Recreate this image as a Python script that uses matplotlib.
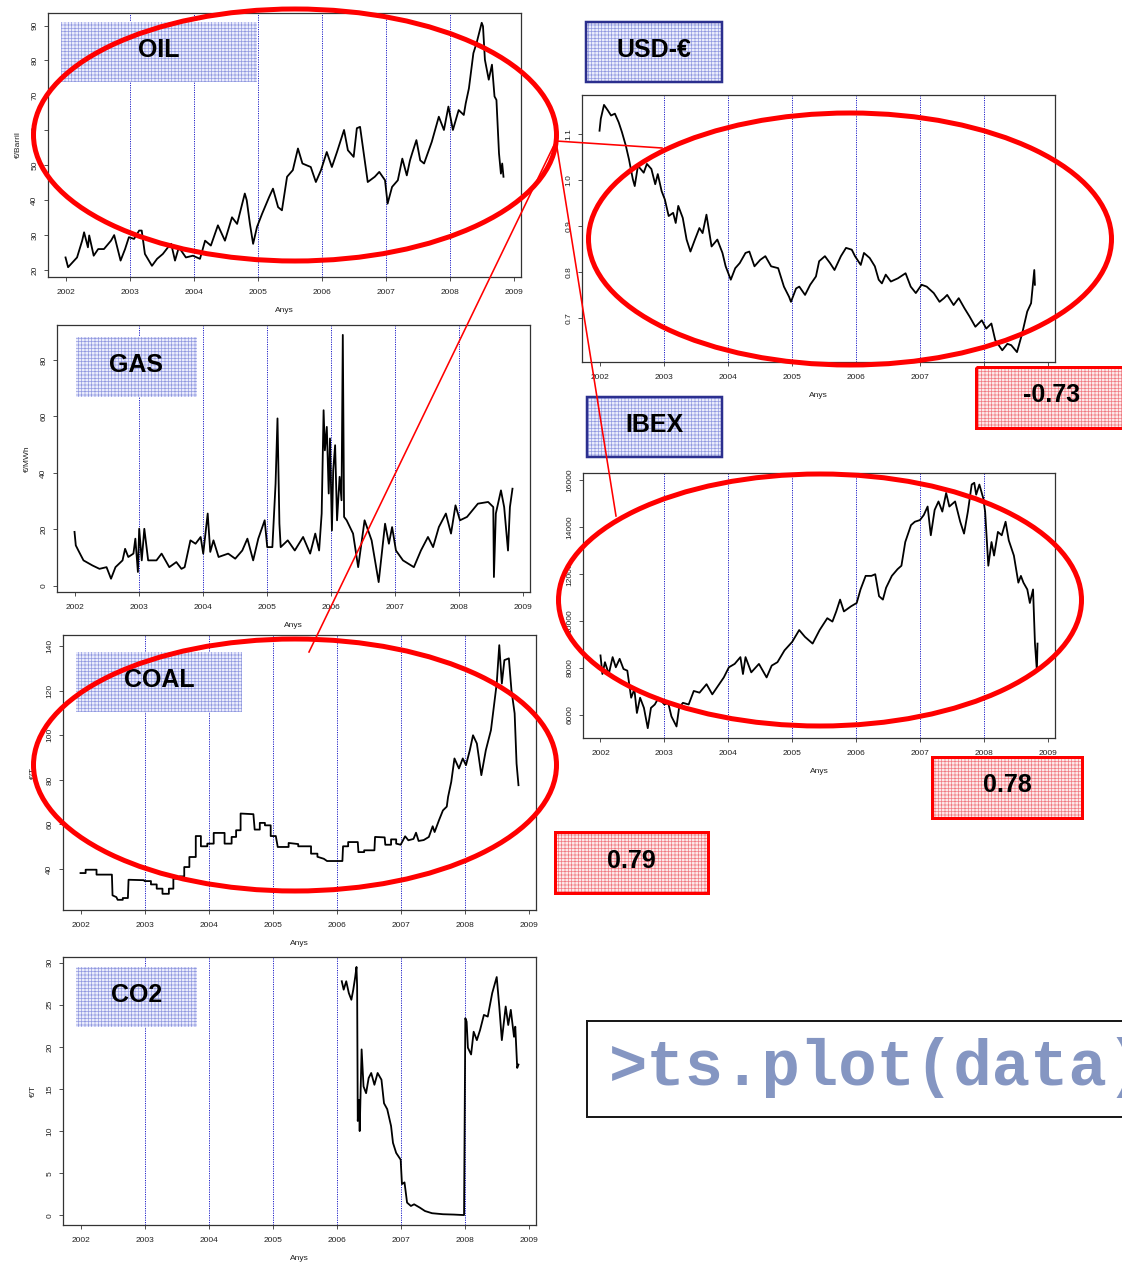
import matplotlib
matplotlib.use("Agg")
import matplotlib.pyplot as plt
from matplotlib.patches import Ellipse, Rectangle
from matplotlib.lines import Line2D
from matplotlib.ticker import MultipleLocator

# ---------------------------------------------------------------- data
years = list(range(2002, 2010))

oil_t = [2002.0, 2002.04, 2002.1, 2002.18, 2002.26, 2002.29, 2002.35, 2002.37, 2002.44, 2002.51,
         2002.6, 2002.71, 2002.76, 2002.86, 2002.93, 2002.99, 2003.07, 2003.15, 2003.19, 2003.24,
         2003.35, 2003.43, 2003.52, 2003.6, 2003.65, 2003.71, 2003.77, 2003.88, 2003.99, 2004.1,
         2004.18, 2004.27, 2004.38, 2004.49, 2004.6, 2004.68, 2004.8, 2004.83, 2004.88, 2004.93,
         2004.99, 2005.07, 2005.18, 2005.24, 2005.32, 2005.38, 2005.46, 2005.55, 2005.63, 2005.7,
         2005.83, 2005.91, 2005.99, 2006.08, 2006.16, 2006.24, 2006.35, 2006.41, 2006.5, 2006.55,
         2006.6, 2006.72, 2006.83, 2006.9, 2006.99, 2007.03, 2007.1, 2007.19, 2007.26, 2007.33,
         2007.38, 2007.42, 2007.48, 2007.54, 2007.6, 2007.72, 2007.83, 2007.91, 2007.98, 2008.05,
         2008.14, 2008.22, 2008.25, 2008.3, 2008.37, 2008.42, 2008.5, 2008.52, 2008.55, 2008.61,
         2008.66, 2008.7, 2008.73, 2008.77, 2008.8, 2008.82, 2008.84]
oil_v = [23.6, 20.8, 22.0, 23.6, 28.4, 30.8, 26.5, 29.9, 24.1, 26.0,
         26.0, 28.4, 30.0, 22.7, 26.0, 29.4, 28.9, 31.3, 31.3, 24.6,
         21.2, 23.2, 24.6, 26.5, 27.5, 22.7, 26.5, 23.6, 24.1, 23.2,
         28.4, 27.0, 32.8, 28.4, 35.1, 33.2, 41.9, 40.0, 33.2, 27.5,
         32.3, 36.1, 40.9, 43.3, 38.0, 37.1, 46.7, 48.6, 54.8, 50.5,
         49.5, 45.2, 48.6, 53.8, 49.5, 53.8, 60.1, 54.3, 52.4, 60.6,
         61.0, 45.2, 46.7, 48.1, 45.7, 39.0, 43.8, 45.7, 51.9, 47.1,
         51.4, 53.8, 57.2, 51.4, 50.5, 56.7, 63.9, 60.1, 66.8, 60.1,
         65.8, 64.4, 67.7, 72.0, 82.1, 85.0, 90.8, 89.8, 80.2, 74.5,
         78.8, 69.7, 68.7, 53.4, 47.6, 50.5, 46.7]

usd_t = [2002.0, 2002.02, 2002.07, 2002.13, 2002.18, 2002.24, 2002.3, 2002.35, 2002.41, 2002.46,
         2002.52, 2002.55, 2002.6, 2002.69, 2002.74, 2002.81, 2002.87, 2002.91, 2002.97, 2003.02,
         2003.08, 2003.15, 2003.19, 2003.23, 2003.3, 2003.36, 2003.42, 2003.49, 2003.56, 2003.61,
         2003.67, 2003.75, 2003.84, 2003.92, 2003.97, 2004.05, 2004.12, 2004.19, 2004.28, 2004.34,
         2004.42, 2004.51, 2004.59, 2004.68, 2004.79, 2004.88, 2004.96, 2004.99, 2005.07, 2005.12,
         2005.21, 2005.29, 2005.38, 2005.43, 2005.52, 2005.6, 2005.67, 2005.77, 2005.85, 2005.94,
         2005.99, 2006.08, 2006.13, 2006.22, 2006.3, 2006.36, 2006.41, 2006.47, 2006.55, 2006.66,
         2006.78, 2006.86, 2006.94, 2007.03, 2007.11, 2007.22, 2007.31, 2007.38, 2007.43, 2007.53,
         2007.61, 2007.7, 2007.78, 2007.87, 2007.97, 2008.04, 2008.12, 2008.18, 2008.29, 2008.37,
         2008.43, 2008.52, 2008.6, 2008.68, 2008.74, 2008.79, 2008.8]
usd_v = [1.107, 1.133, 1.163, 1.151, 1.140, 1.144, 1.125, 1.104, 1.075, 1.045,
         1.002, 0.987, 1.031, 1.016, 1.035, 1.024, 0.991, 1.013, 0.976, 0.958,
         0.922, 0.929, 0.907, 0.944, 0.918, 0.871, 0.845, 0.871, 0.896, 0.885,
         0.925, 0.856, 0.871, 0.842, 0.813, 0.784, 0.809, 0.820, 0.842, 0.845,
         0.813, 0.827, 0.835, 0.813, 0.809, 0.769, 0.747, 0.736, 0.765, 0.769,
         0.751, 0.773, 0.791, 0.824, 0.835, 0.820, 0.805, 0.835, 0.853, 0.849,
         0.835, 0.816, 0.842, 0.831, 0.813, 0.784, 0.776, 0.795, 0.780, 0.787,
         0.798, 0.769, 0.755, 0.773, 0.769, 0.755, 0.736, 0.744, 0.751, 0.729,
         0.744, 0.722, 0.704, 0.682, 0.696, 0.678, 0.689, 0.653, 0.631, 0.645,
         0.642, 0.627, 0.667, 0.715, 0.733, 0.805, 0.773]

gas_t = [2002.0, 2002.02, 2002.06, 2002.14, 2002.28, 2002.39, 2002.5, 2002.57, 2002.64, 2002.75,
         2002.79, 2002.84, 2002.92, 2002.95, 2002.99, 2003.01, 2003.05, 2003.09, 2003.15, 2003.28,
         2003.36, 2003.48, 2003.59, 2003.67, 2003.72, 2003.81, 2003.89, 2003.97, 2004.01, 2004.08,
         2004.12, 2004.17, 2004.25, 2004.4, 2004.51, 2004.62, 2004.7, 2004.79, 2004.87, 2004.97,
         2005.01, 2005.09, 2005.14, 2005.17, 2005.2, 2005.22, 2005.33, 2005.44, 2005.57, 2005.68,
         2005.76, 2005.82, 2005.86, 2005.89, 2005.91, 2005.94, 2005.97, 2005.99, 2006.02, 2006.04,
         2006.07, 2006.1, 2006.14, 2006.17, 2006.19, 2006.21, 2006.25, 2006.35, 2006.43, 2006.53,
         2006.64, 2006.75, 2006.85, 2006.91, 2006.96, 2007.02, 2007.13, 2007.3, 2007.41, 2007.52,
         2007.6, 2007.69, 2007.8, 2007.88, 2007.95, 2008.02, 2008.13, 2008.3, 2008.46, 2008.54,
         2008.55, 2008.58, 2008.66, 2008.71, 2008.77, 2008.8, 2008.84]
gas_v = [19.1, 14.3, 12.5, 9.0, 7.2, 6.0, 6.6, 2.5, 6.6, 9.0,
         13.1, 10.2, 11.4, 16.7, 4.9, 20.2, 9.0, 20.2, 9.0, 9.0,
         11.4, 6.6, 8.4, 6.0, 6.6, 16.1, 14.9, 17.3, 11.4, 25.6,
         12.0, 16.1, 10.2, 11.4, 9.6, 12.5, 16.7, 9.0, 16.7, 23.2,
         13.7, 13.7, 36.2, 59.3, 22.0, 13.7, 16.1, 12.5, 17.3, 11.4,
         18.5, 12.5, 25.6, 62.2, 48.0, 56.3, 32.7, 52.2, 19.6, 40.9,
         49.8, 23.2, 38.6, 30.3, 88.9, 24.4, 23.2, 18.5, 6.6, 23.2,
         16.1, 1.3, 22.0, 14.9, 20.8, 12.5, 9.0, 6.6, 12.5, 17.3,
         13.7, 20.8, 25.6, 18.5, 28.5, 23.2, 24.4, 29.1, 29.7, 27.9,
         3.1, 25.6, 33.8, 27.9, 12.5, 27.9, 34.4]

ibex_t = [2002.0, 2002.03, 2002.07, 2002.13, 2002.19, 2002.24, 2002.3, 2002.36, 2002.42, 2002.48,
          2002.53, 2002.57, 2002.62, 2002.68, 2002.74, 2002.79, 2002.85, 2002.91, 2003.0, 2003.06,
          2003.11, 2003.19, 2003.23, 2003.29, 2003.38, 2003.46, 2003.55, 2003.66, 2003.75, 2003.84,
          2003.93, 2004.01, 2004.1, 2004.19, 2004.23, 2004.27, 2004.36, 2004.48, 2004.6, 2004.68,
          2004.77, 2004.88, 2005.0, 2005.11, 2005.2, 2005.32, 2005.43, 2005.55, 2005.63, 2005.69,
          2005.75, 2005.81, 2005.92, 2006.01, 2006.07, 2006.15, 2006.24, 2006.3, 2006.36, 2006.42,
          2006.47, 2006.56, 2006.65, 2006.71, 2006.77, 2006.86, 2006.92, 2007.0, 2007.06, 2007.12,
          2007.17, 2007.23, 2007.29, 2007.35, 2007.41, 2007.46, 2007.55, 2007.63, 2007.69, 2007.75,
          2007.81, 2007.85, 2007.88, 2007.93, 2007.99, 2008.02, 2008.07, 2008.12, 2008.16, 2008.22,
          2008.28, 2008.34, 2008.39, 2008.47, 2008.54, 2008.58, 2008.62, 2008.68, 2008.72, 2008.77,
          2008.8, 2008.83, 2008.84]
ibex_v = [8525, 7732, 8237, 7732, 8453, 8020, 8381, 7948, 7876, 6722,
          7082, 6072, 6722, 6289, 5423, 6289, 6433, 6722, 6433, 6505,
          5928, 5495, 6289, 6505, 6433, 7010, 6938, 7299, 6866, 7227,
          7587, 8020, 8164, 8453, 7732, 8453, 7804, 8164, 7587, 8092,
          8237, 8741, 9102, 9608, 9317, 9030, 9608, 10113, 9968, 10401,
          10906, 10401, 10617, 10762, 11339, 11917, 11917, 11988, 11050, 10906,
          11411, 11917, 12205, 12350, 13360, 14081, 14225, 14297, 14513, 14874,
          13648, 14730, 15090, 14658, 15452, 14874, 15090, 14225, 13720, 14658,
          15812, 15885, 15380, 15812, 15235, 14658, 12350, 13360, 12783, 13792,
          13648, 14225, 13432, 12783, 11628, 11917, 11628, 11339, 10762, 11339,
          9030, 7876, 9030]

coal_t = [2002.0, 2002.08, 2002.08, 2002.25, 2002.25, 2002.49, 2002.5, 2002.56, 2002.58, 2002.66,
          2002.66, 2002.74, 2002.75, 2002.99, 2003.0, 2003.1, 2003.1, 2003.19, 2003.19, 2003.28,
          2003.28, 2003.38, 2003.38, 2003.45, 2003.45, 2003.55, 2003.55, 2003.62, 2003.62, 2003.7,
          2003.7, 2003.8, 2003.8, 2003.88, 2003.88, 2003.98, 2003.98, 2004.08, 2004.08, 2004.25,
          2004.25, 2004.36, 2004.36, 2004.43, 2004.43, 2004.5, 2004.5, 2004.7, 2004.72, 2004.8,
          2004.8, 2004.88, 2004.88, 2004.97, 2004.97, 2005.05, 2005.08, 2005.25, 2005.25, 2005.4,
          2005.4, 2005.6, 2005.6, 2005.7, 2005.7, 2005.8, 2005.85, 2006.09, 2006.1, 2006.18,
          2006.18, 2006.33, 2006.34, 2006.43, 2006.43, 2006.59, 2006.6, 2006.75, 2006.76, 2006.85,
          2006.85, 2006.93, 2006.93, 2007.0, 2007.07, 2007.12, 2007.2, 2007.24, 2007.28, 2007.36,
          2007.44, 2007.5, 2007.53, 2007.6, 2007.66, 2007.72, 2007.74, 2007.79, 2007.84, 2007.91,
          2007.97, 2008.02, 2008.08, 2008.13, 2008.19, 2008.26, 2008.33, 2008.41, 2008.5, 2008.54,
          2008.58, 2008.62, 2008.69, 2008.73, 2008.78, 2008.81, 2008.84]
coal_v = [38.2, 38.2, 39.7, 39.7, 37.5, 37.5, 28.2, 27.4, 26.2, 26.2,
          27.0, 27.0, 35.2, 35.0, 34.6, 34.6, 33.1, 33.1, 31.2, 31.2,
          28.9, 28.9, 31.2, 31.2, 35.7, 35.7, 36.7, 36.7, 40.9, 40.9,
          45.4, 45.4, 54.8, 54.8, 50.2, 50.2, 51.4, 51.4, 56.2, 56.2,
          51.4, 51.4, 54.4, 54.4, 57.4, 57.4, 64.9, 64.6, 57.7, 57.7,
          60.7, 60.7, 59.6, 59.6, 54.8, 54.8, 49.9, 49.9, 51.7, 51.2,
          50.2, 50.2, 46.9, 46.9, 45.5, 44.6, 43.6, 43.6, 50.2, 50.2,
          52.1, 52.1, 47.6, 47.6, 48.4, 48.4, 54.4, 54.2, 50.9, 50.9,
          53.3, 53.3, 51.4, 50.9, 54.7, 52.9, 53.5, 56.3, 52.6, 53.0,
          54.4, 59.2, 56.6, 62.0, 66.3, 68.0, 72.3, 79.1, 89.6, 85.1,
          89.6, 86.6, 93.3, 100.0, 96.3, 82.1, 93.3, 102.3, 123.2, 140.4,
          123.2, 133.7, 134.5, 120.2, 109.8, 87.3, 77.6]

co2_t = [2006.08, 2006.11, 2006.15, 2006.19, 2006.23, 2006.26, 2006.29, 2006.31, 2006.32, 2006.33,
         2006.35, 2006.36, 2006.39, 2006.42, 2006.46, 2006.5, 2006.54, 2006.59, 2006.64, 2006.7,
         2006.74, 2006.79, 2006.85, 2006.88, 2006.93, 2007.0, 2007.02, 2007.06, 2007.1, 2007.16,
         2007.21, 2007.3, 2007.38, 2007.49, 2007.66, 2007.83, 2007.99, 2008.01, 2008.03, 2008.05,
         2008.1, 2008.14, 2008.19, 2008.24, 2008.3, 2008.36, 2008.43, 2008.5, 2008.54, 2008.58,
         2008.64, 2008.68, 2008.72, 2008.77, 2008.79, 2008.82, 2008.84]
co2_v = [27.8, 26.8, 27.8, 26.4, 25.6, 26.8, 28.3, 29.5, 27.2, 11.2,
         13.7, 10.0, 19.7, 15.3, 14.5, 16.3, 16.9, 15.5, 16.9, 16.1,
         13.3, 12.6, 10.6, 8.6, 7.4, 6.6, 3.7, 3.9, 1.5, 1.1,
         1.3, 0.9, 0.5, 0.24, 0.12, 0.08, 0.02, 23.4, 23.0, 19.9,
         19.1, 21.8, 20.8, 22.0, 23.8, 23.6, 26.4, 28.3, 24.8, 20.8,
         24.8, 22.6, 24.4, 21.2, 22.4, 17.5, 17.9]

# ---------------------------------------------------------------- canvas
W, H, DPI = 1122, 1263, 100
plt.rcParams["font.family"] = ["Liberation Sans", "DejaVu Sans"]
plt.rcParams["hatch.linewidth"] = 0.5

fig = plt.figure(figsize=(W / DPI, H / DPI), dpi=DPI)
fig.patch.set_facecolor("white")


def px_rect(x0, y0, x1, y1):
    return [x0 / W, 1 - y1 / H, (x1 - x0) / W, (y1 - y0) / H]


T0, T1 = 2002.0, 2008.84
XLIM = (T0 - 0.04 * (T1 - T0), T1 + 0.04 * (T1 - T0))


def ts_panel(box, t, v, ystep, ylabel=None):
    ax = fig.add_axes(px_rect(*box))
    ax.plot(t, v, color="black", lw=1.3)
    ax.set_xlim(XLIM)
    ax.margins(y=0.04)
    for yr in years[1:-1]:
        ax.axvline(yr, color="#2020c8", lw=0.7, ls=(0, (1.2, 1.2)), zorder=0)
    ax.set_xticks(years)
    ax.yaxis.set_major_locator(MultipleLocator(ystep))
    ax.tick_params(axis="x", labelsize=6, length=3, width=0.6, pad=5.5,
                   color="#333333", labelcolor="#222222")
    ax.tick_params(axis="y", labelsize=6, length=3, width=0.6, pad=4,
                   color="#333333", labelcolor="#222222", labelrotation=90)
    for lab in ax.get_yticklabels():
        lab.set_verticalalignment("center")
    for s in ax.spines.values():
        s.set_color("#333333")
        s.set_linewidth(0.9)
    ax.set_xlabel("Anys", fontsize=6, labelpad=8, color="#222222")
    if ylabel:
        ax.set_ylabel(ylabel, fontsize=6, labelpad=7, color="#222222")
    return ax


ts_panel((48, 13, 521, 277), oil_t, oil_v, 10, "€/Barril")
ts_panel((582, 95, 1055, 362), usd_t, usd_v, 0.1)
ts_panel((57, 325, 530, 592), gas_t, gas_v, 20, "€/MWh")
ts_panel((583, 473, 1055, 738), ibex_t, ibex_v, 2000)
ts_panel((63, 635, 536, 910), coal_t, coal_v, 20, "€/T")
ts_panel((63, 957, 536, 1225), co2_t, co2_v, 5, "€/T")

# ---------------------------------------------------------------- annotation layer (pixel space)
ov = fig.add_axes([0, 0, 1, 1], zorder=10)
ov.set_xlim(0, W)
ov.set_ylim(H, 0)
ov.axis("off")
ov.patch.set_alpha(0)

PT = 72 / DPI  # points per pixel


def tag(x0, y0, x1, y1, text, style, border=None, size=18, dy=-2):
    if style == "blue":
        fc, hc = "#ebedfc", "#9199e0"
    else:
        fc, hc = "#fdeaea", "#f07a82"
    ov.add_patch(Rectangle((x0, y0), x1 - x0, y1 - y0, facecolor=fc,
                           edgecolor=hc, hatch="+++++", lw=0, zorder=2))
    if border:
        col, lw = border
        ov.add_patch(Rectangle((x0, y0), x1 - x0, y1 - y0, fill=False,
                               edgecolor=col, lw=lw * PT, zorder=3))
    ov.text((x0 + x1) / 2, (y0 + y1) / 2 + dy, text, ha="center", va="center",
            fontsize=size, fontweight="bold", color="black", zorder=4)


tag(61, 22, 257, 82, "OIL", "blue")
tag(76, 337, 197, 397, "GAS", "blue")
tag(76, 652, 242, 712, "COAL", "blue")
tag(76, 967, 197, 1027, "CO2", "blue")
tag(586, 22, 722, 82, "USD-€", "blue", border=("#2b2f8e", 2.5))
tag(587, 397, 722, 457, "IBEX", "blue", border=("#2b2f8e", 2.5))
tag(976, 367, 1128, 428, "-0.73", "red", border=("#ff0000", 3))
tag(932, 757, 1082, 818, "0.78", "red", border=("#ff0000", 3))
tag(555, 832, 708, 893, "0.79", "red", border=("#ff0000", 3))

# connecting strokes from the oil ellipse
for xe, ye in [(662, 148), (616, 516), (309, 652)]:
    ov.add_line(Line2D([556, xe], [141, ye], color="#ff0000", lw=1.6 * PT, zorder=5))

# highlight ellipses
for cx, cy in [(295, 135), (850, 239), (820, 600), (295, 765)]:
    ov.add_patch(Ellipse((cx, cy), 523, 252, fill=False, edgecolor="#ff0000",
                         lw=5 * PT, zorder=6))

# command box
ov.add_patch(Rectangle((587, 1021), 560, 96, facecolor="white",
                       edgecolor="#1a1a1a", lw=2 * PT, zorder=2))
ov.text(609, 1067, ">ts.plot(data)", ha="left", va="center",
        fontsize=46, fontweight="bold", color="#8596c2",
        family=["Liberation Mono", "DejaVu Sans Mono"], zorder=4)

fig.savefig("out.png", dpi=DPI)
